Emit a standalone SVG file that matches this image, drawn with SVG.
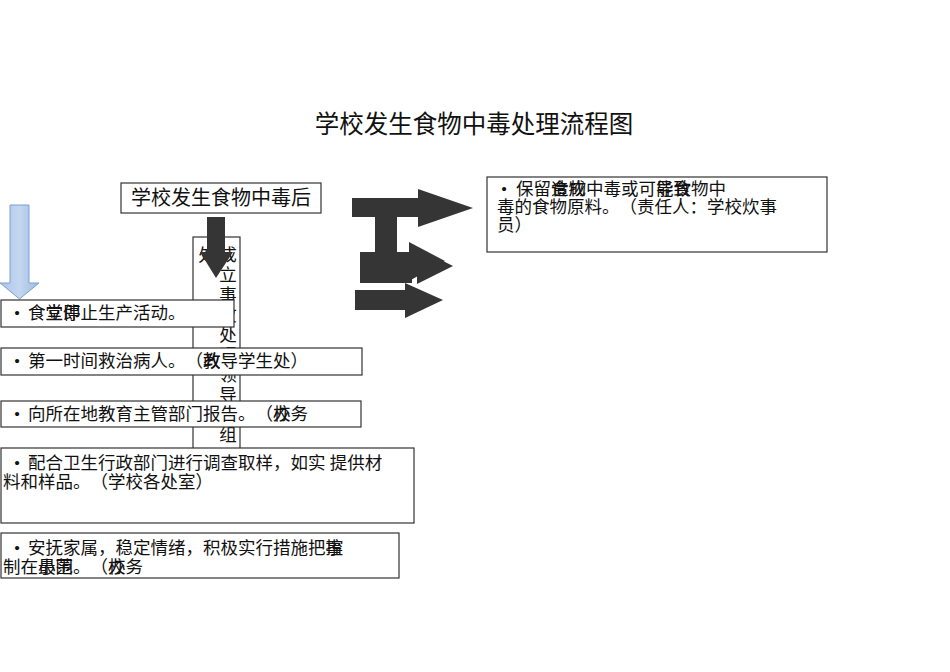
<svg xmlns="http://www.w3.org/2000/svg" width="950" height="672" viewBox="0 0 950 672">
<defs>
<linearGradient id="blueG" x1="0" y1="0" x2="1" y2="0">
<stop offset="0" stop-color="#a9c3e8"/>
<stop offset="0.5" stop-color="#c4d7f0"/>
<stop offset="1" stop-color="#9dbbe3"/>
</linearGradient>
<style>
.t{font-family:"Liberation Serif","Noto Sans CJK SC",serif;fill:#111;text-spacing-trim:space-all;}
.b{font-size:17.5px;}
.v{text-anchor:middle;}
.box{fill:#fff;stroke:#333;stroke-width:1.2;}
.dark{fill:#353535;}
</style>
</defs>
<rect width="950" height="672" fill="#fff"/>
<text id="title" class="t" x="474" y="133" font-size="24.5" text-anchor="middle">学校发生食物中毒处理流程图</text>

<g id="node-vertical">
<rect class="box" x="193" y="237" width="47" height="215"/>
<text class="t b v" x="228" y="261">成</text>
<text class="t b v" x="228" y="281">立</text>
<text class="t b v" x="228" y="301">事</text>
<text class="t b v" x="228" y="321">故</text>
<text class="t b v" x="228" y="341">处</text>
<text class="t b v" x="228" y="361">理</text>
<text class="t b v" x="228" y="381">领</text>
<text class="t b v" x="228" y="401">导</text>
<text class="t b v" x="228" y="421">小</text>
<text class="t b v" x="228" y="441">组</text>
<text class="t b v" x="207" y="261">处</text>
</g>

<g id="connectors">
<polygon points="10,205 29,205 29,283 39,283 19.5,299 0,283 10,283" fill="url(#blueG)" stroke="#7f9fcf" stroke-width="1"/>
<polygon class="dark" points="207,217 225,217 225,252 233,252 216,278 200,252 207,252"/>
<polygon class="dark" points="352,198 418,198 418,189 473,208 418,227 418,217 352,217"/>
<rect class="dark" x="375" y="216" width="22" height="38"/>
<rect class="dark" x="360" y="252" width="52" height="31"/>
<polygon class="dark" points="409,242 445,261 409,281"/>
<polygon class="dark" points="417,248 453,266 417,284"/>
<polygon class="dark" points="355,290 405,290 405,283 443,300 405,318 405,310 355,310"/>
</g>

<g id="node-start">
<rect class="box" x="121" y="183" width="200" height="30"/>
<text class="t" x="221" y="205" font-size="20" text-anchor="middle">学校发生食物中毒后</text>
</g>

<g id="node-1">
<rect class="box" x="1" y="300" width="233" height="27"/>
<text class="t b" x="14" y="319">•</text>
<text class="t b" x="28" y="319">食堂停止生产活动。</text>
<text class="t b" x="45.5" y="319">立即</text>
</g>

<g id="node-2">
<rect class="box" x="1" y="348" width="361" height="27"/>
<text class="t b" x="14" y="367">•</text>
<text class="t b" x="28" y="367">第一时间救治病人。（教导学生处）</text>
<text class="t b" x="203" y="367">政</text>
</g>

<g id="node-3">
<rect class="box" x="1" y="401" width="360" height="26"/>
<text class="t b" x="14" y="420">•</text>
<text class="t b" x="28" y="420">向所在地教育主管部门报告。（校务</text>
<text class="t b" x="273" y="420">办</text>
</g>

<g id="node-4">
<rect class="box" x="1" y="448" width="413" height="75"/>
<text class="t b" x="14" y="469">•</text>
<text class="t b" x="28" y="469">配合卫生行政部门进行调查取样，如实 提供材</text>
<text class="t b" x="3" y="488">料和样品。（学校各处室）</text>
</g>

<g id="node-5">
<rect class="box" x="1" y="533" width="398" height="45"/>
<text class="t b" x="14" y="554">•</text>
<text class="t b" x="28" y="554">安抚家属，稳定情绪，积极实行措施把控</text>
<text class="t b" x="325.5" y="554">事</text>
<text class="t b" x="3" y="573">制在最围。（校务</text>
<text class="t b" x="38" y="573">小范</text>
<text class="t b" x="108" y="573">办</text>
</g>

<g id="node-right">
<rect class="box" x="487" y="177" width="340" height="75"/>
<text class="t b" x="501" y="195">•</text>
<text class="t b" x="516" y="195">保留食物中毒或可能食物中</text>
<text class="t b" x="551" y="195">造成</text>
<text class="t b" x="656" y="195">导致</text>
<text class="t b" x="497" y="213">毒的食物原料。（责任人：学校炊事</text>
<text class="t b" x="497" y="231">员）</text>
</g>
</svg>
